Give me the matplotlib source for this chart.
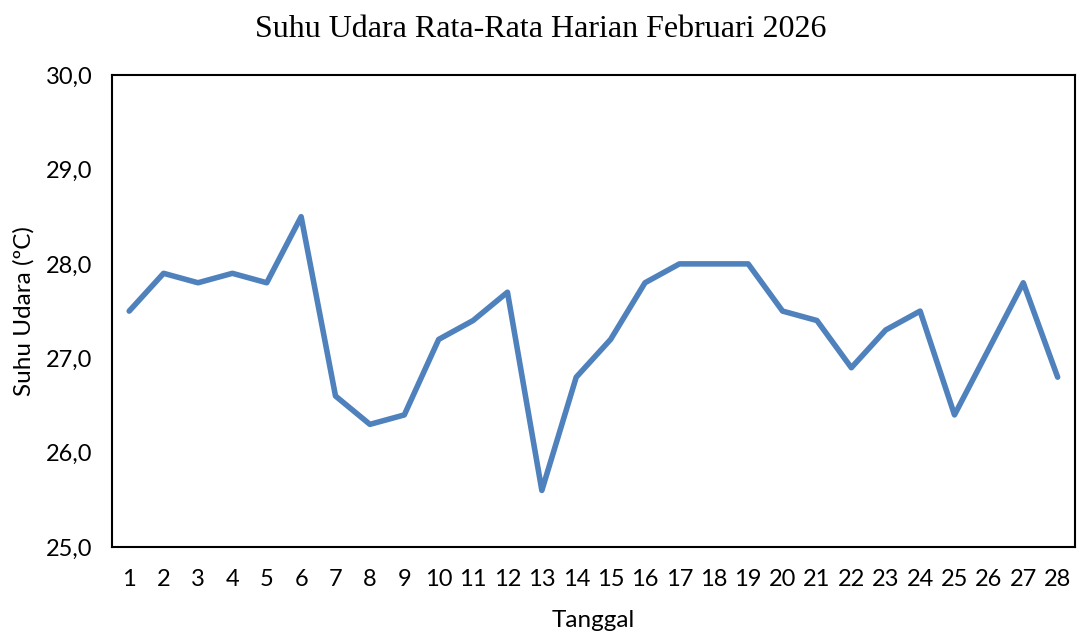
import matplotlib
matplotlib.use("Agg")
from matplotlib import pyplot as plt

# Data
tanggal = list(range(1, 29))
suhu = [27.5, 27.9, 27.8, 27.9, 27.8, 28.5, 26.6, 26.3, 26.4, 27.2,
        27.4, 27.7, 25.6, 26.8, 27.2, 27.8, 28.0, 28.0, 28.0, 27.5,
        27.4, 26.9, 27.3, 27.5, 26.4, 27.1, 27.8, 26.8]
yticks = [25.0, 26.0, 27.0, 28.0, 29.0, 30.0]

plt.rcParams['font.family'] = ['Lato', 'DejaVu Sans']

fig = plt.figure(figsize=(10.77, 6.31), dpi=100)
ax = fig.add_axes([0.104, 0.133, 0.894, 0.748])

ax.plot(tanggal, suhu, color="#4F81BD", linewidth=4.0,
        solid_capstyle="round", solid_joinstyle="round")

ax.set_xlim(0.5, 28.5)
ax.set_ylim(25, 30)
ax.set_xticks(tanggal)
ax.set_xticklabels([str(t) for t in tanggal])
ax.set_yticks(yticks)
ax.set_yticklabels([f"{v:.1f}".replace(".", ",") for v in yticks])
ax.tick_params(length=0, labelsize=17)
ax.tick_params(axis="x", pad=16)
ax.tick_params(axis="y", pad=14)

for s in ax.spines.values():
    s.set_linewidth(1.5)
    s.set_color("black")

ax.set_xlabel("Tanggal", fontsize=17.5, labelpad=14)
ax.set_ylabel("Suhu Udara (ºC)", fontsize=17.5, labelpad=8)
fig.text(0.502, 0.953, "Suhu Udara Rata-Rata Harian Februari 2026",
         ha="center", va="center", fontsize=23, family="Liberation Serif")

fig.savefig("out.png", dpi=100)
